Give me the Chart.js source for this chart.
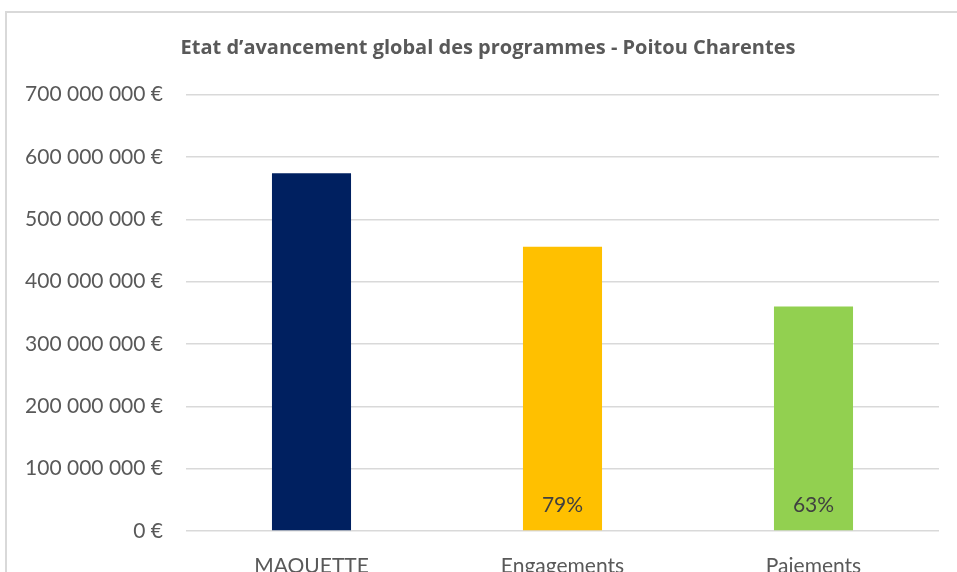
<!DOCTYPE html>
<html>
<head>
<meta charset="utf-8">
<script src="https://cdn.jsdelivr.net/npm/chart.js@4"></script>
<style>
  body { margin: 0; overflow: hidden; background: #fff; }
  #frame { position: absolute; left: 5px; top: 11px; width: 1000px; height: 620px;
           border-left: 2px solid #d9d9d9; border-top: 2px solid #d9d9d9; }
  #wrap { position: absolute; left: 0; top: 0; width: 957px; height: 600px; }
</style>
</head>
<body>
<div id="frame"></div>
<div id="wrap"><canvas id="chart"></canvas></div>
<script>
// Data
const categories = ["MAQUETTE", "Engagements", "Paiements"];
const amounts = [574000000, 456000000, 360000000];
const barColors = ["#002060", "#FFC000", "#92D050"];
const pctLabels = [null, "79%", "63%"];
const chartTitle = "Etat d\u2019avancement global des programmes - Poitou Charentes";

// format 700000000 -> "700 000 000 €"
function euro(value) {
  return String(value).replace(/\B(?=(\d{3})+(?!\d))/g, " ") + " €";
}

// draw the percentage at the bottom of each bar
const pctPlugin = {
  id: "pctLabels",
  afterDatasetsDraw(chart) {
    const ctx = chart.ctx;
    const meta = chart.getDatasetMeta(0);
    ctx.save();
    ctx.font = "21px Lato";
    ctx.fillStyle = "#404040";
    ctx.textAlign = "center";
    ctx.textBaseline = "middle";
    meta.data.forEach((bar, i) => {
      if (pctLabels[i]) ctx.fillText(pctLabels[i], bar.x, bar.base - 25);
    });
    ctx.restore();
  }
};

// the original chart is wider than the window, so its title sits a bit right of our centre
const titleShift = {
  id: "titleShift",
  afterLayout(chart) {
    if (chart.titleBlock) chart.titleBlock.left += 37;
  }
};

const ctx = document.getElementById("chart").getContext("2d");
new Chart(ctx, {
  type: "bar",
  data: {
    labels: categories,
    datasets: [{
      data: amounts,
      backgroundColor: barColors,
      categoryPercentage: 1,
      barPercentage: 0.315
    }]
  },
  options: {
    responsive: true,
    maintainAspectRatio: false,
    animation: false,
    layout: { padding: { left: 0, right: 18, top: 0, bottom: 0 } },
    plugins: {
      legend: { display: false },
      tooltip: { enabled: false },
      title: {
        display: true,
        text: chartTitle,
        color: "#595959",
        font: { family: "Open Sans", size: 20, weight: "bold" },
        padding: { top: 36, bottom: 34.6 }
      }
    },
    scales: {
      x: {
        grid: { display: false },
        border: { display: false },
        ticks: { color: "#595959", font: { family: "Lato", size: 21 }, padding: 15 },
        afterFit(scale) { scale.height = 69; }
      },
      y: {
        min: 0,
        max: 700000000,
        grid: { color: "#d9d9d9", lineWidth: 1.5, drawTicks: false },
        border: { display: false },
        ticks: {
          stepSize: 100000000,
          color: "#595959",
          font: { family: "Lato", size: 21 },
          padding: 23,
          callback: (v) => euro(v)
        },
        afterFit(scale) { scale.width = 186; }
      }
    }
  },
  plugins: [pctPlugin, titleShift]
});
</script>
</body>
</html>
